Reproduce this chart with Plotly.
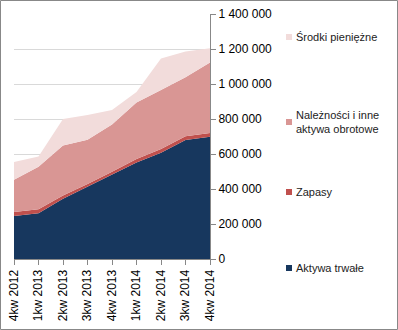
import plotly.graph_objects as go

# Quarterly balance-sheet asset structure (PLN)
quarters = ["4kw 2012", "1kw 2013", "2kw 2013", "3kw 2013", "4kw 2013",
            "1kw 2014", "2kw 2014", "3kw 2014", "4kw 2014"]
aktywa_trwale = [246000, 262000, 344000, 413000, 485000, 552000, 607000, 680000, 699000]
zapasy = [23000, 23000, 19000, 15000, 13000, 19000, 21000, 21000, 21000]
naleznosci = [184000, 242000, 286000, 254000, 270000, 323000, 338000, 338000, 403000]
srodki = [101000, 59000, 151000, 141000, 84000, 61000, 180000, 147000, 82000]

series_names = ["Aktywa trwałe", "Zapasy", "Należności i inne<br>aktywa obrotowe", "Środki pieniężne"]
series_values = [aktywa_trwale, zapasy, naleznosci, srodki]
series_colors = ["#17375E", "#C0504D", "#D99694", "#F2DCDB"]

y_ticks = [0, 200000, 400000, 600000, 800000, 1000000, 1200000, 1400000]

FONT = "Liberation Sans"
x_idx = list(range(len(quarters)))

# plot-area geometry in pixels
W, H = 398, 330
L, R, T, B = 14, 188, 14, 71
PW, PH = W - L - R, H - T - B


def px_x(x):
    return (x - L) / PW


def px_y(y):
    return (H - B - y) / PH


fig = go.Figure()
for name, vals, col in zip(series_names, series_values, series_colors):
    fig.add_trace(go.Scatter(
        x=x_idx, y=vals, name=name, mode="lines", stackgroup="one",
        line=dict(width=0, color=col), fillcolor=col, showlegend=False,
        hoverinfo="skip",
    ))

# Right-hand legend: colour squares with labels
legend_y = [268, 192, 122, 37]  # pixel centres from the top of the canvas
for name, col, yc in zip(series_names, series_colors, legend_y):
    fig.add_shape(type="rect", xref="paper", yref="paper",
                  x0=px_x(286), x1=px_x(292),
                  y0=px_y(yc + 3), y1=px_y(yc - 3),
                  line=dict(width=0), fillcolor=col)
    fig.add_annotation(xref="paper", yref="paper",
                       x=px_x(294), y=px_y(yc),
                       text=name, showarrow=False, xanchor="left", yanchor="middle",
                       align="left", font=dict(family=FONT, size=11, color="#222222"))

# outer chart border
fig.add_shape(type="rect", xref="paper", yref="paper",
              x0=px_x(0.5), x1=px_x(W - 0.5),
              y0=px_y(H - 0.5), y1=px_y(0.5),
              line=dict(color="#888888", width=1), fillcolor="rgba(0,0,0,0)")

fig.update_layout(
    width=W, height=H,
    margin=dict(l=L, r=R, t=T, b=B, autoexpand=False),
    paper_bgcolor="white", plot_bgcolor="white",
    separators=", ",
    showlegend=False,
    font=dict(family=FONT, size=12, color="#000000"),
    xaxis=dict(
        range=[0, 8], tickmode="array", tickvals=x_idx, ticktext=quarters,
        tickangle=-90, ticks="outside", ticklen=5, tickcolor="#888888",
        showline=True, linecolor="#888888", linewidth=1,
        showgrid=False, zeroline=False, automargin=False,
        tickfont=dict(family=FONT, size=12, color="#000000"),
    ),
    yaxis=dict(
        range=[0, 1400000], side="right", tickmode="array", tickvals=y_ticks,
        tickformat=",d", ticks="outside", ticklen=5, tickcolor="#888888",
        showline=True, linecolor="#888888", linewidth=1,
        showgrid=True, gridcolor="#D9D9D9", gridwidth=1, zeroline=False,
        automargin=False,
        tickfont=dict(family=FONT, size=12, color="#000000"),
    ),
)

fig.write_html("out.html")
